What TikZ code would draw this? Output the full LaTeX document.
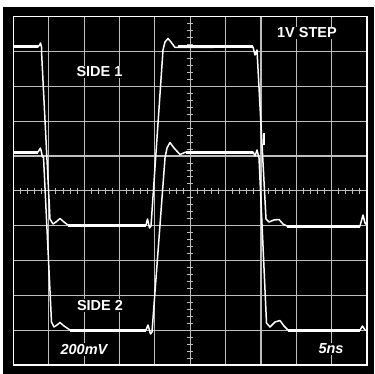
\documentclass[tikz,border=0pt]{standalone}
\usepackage{fontspec}
\newfontfamily\scopefont{Liberation Sans}
\definecolor{gridgray}{RGB}{190,190,190}
\begin{document}
\begin{tikzpicture}[x=1pt,y=-1pt]

  \tikzstyle{gridline}=[draw=gridgray, line width=1.1pt]

  \tikzstyle{ticks}=[draw=gridgray, line width=0.9pt]

  \tikzstyle{frame}=[draw=white, line width=1.5pt]

  \tikzstyle{sweep}=[draw=white, line width=1.5pt, line join=round]

  \tikzstyle{flatrun}=[draw=white, line width=3pt]

  \tikzstyle{scopetext}=[fill=black, text=white, inner sep=1pt, font=\scopefont\bfseries\fontsize{14.5}{16}\selectfont]

  \tikzstyle{scaletext}=[scopetext, font=\scopefont\bfseries\itshape\fontsize{14.5}{16}\selectfont]

\useasboundingbox (0,0) rectangle (374,374);
\fill[white] (0,0) rectangle (374,374);
\fill[black] (3,7) rectangle (374,374);

%% graticule
\foreach \i in {1,...,9} {
  \draw[gridline] (13.5+35.35*\i,16.7) -- (13.5+35.35*\i,365);
  \draw[gridline] (13.5,16.7+34.83*\i) -- (367,16.7+34.83*\i);
}

%% minor ticks on the centre lines
\foreach \k in {1,...,49} {
  \draw[ticks] (13.5+7.07*\k,187.9) -- (13.5+7.07*\k,193.8);
  \draw[ticks] (187.3,16.7+6.966*\k) -- (193.2,16.7+6.966*\k);
}

\draw[frame] (13.5,16.7) rectangle (367,365);

%% labels
\node[scopetext] (step) at (307,33) {1V STEP};

\node[scopetext] (side1) at (99.5,72) {SIDE 1};

\node[scopetext] (side2) at (100,305.5) {SIDE 2};

\node[scaletext] (volts) at (84,349.5) {200mV};

\node[scaletext] (time) at (331,349) {5ns};

%% side 1 trace
\draw[sweep] (13.5,47) -- (38,47) -- (39.5,45) -- (40.5,43) -- (41.5,47) -- (41.5,51)
  -- (46,140) -- (50,219) -- (53,224) -- (56,222) -- (60,218.5) -- (64,222) -- (68,225)
  -- (146,225) -- (147.5,219) -- (149.5,228) -- (151,226) -- (163,50) -- (165,42)
  -- (168,38.5) -- (171,42) -- (175,47.5) -- (253,47) -- (255,55) -- (257,50)
  -- (266,219) -- (269,222) -- (274,220) -- (279,219.5) -- (283,224) -- (287,226)
  -- (360,226) -- (363,215) -- (365,223) -- (367,225);

%% side 2 trace
\draw[sweep] (13.5,152) -- (38,152) -- (40.5,148) -- (42.5,157) -- (43.5,157)
  -- (51.5,322) -- (54,327) -- (57,325) -- (60,322.5) -- (64,326) -- (70,330)
  -- (146,330) -- (148,325) -- (150.5,334) -- (152,332) -- (165,158) -- (167,148)
  -- (170,142.5) -- (174,148) -- (180,154.5) -- (186,152) -- (253,152) -- (255,156)
  -- (257,150) -- (259,158) -- (266.5,323) -- (270,327) -- (275,322) -- (280,320.5)
  -- (284,326) -- (288,330) -- (360,330) -- (362.5,326) -- (365,330) -- (367,330);
\draw[sweep] (264,133) -- (264,145);

%% settled levels drawn heavier
\draw[flatrun] (13.5,47) -- (38,47);
\draw[flatrun] (68,225) -- (146,225);
\draw[flatrun] (178,47) -- (253,47);
\draw[flatrun] (287,226) -- (360,226);
\draw[flatrun] (13.5,152) -- (38,152);
\draw[flatrun] (70,330) -- (146,330);
\draw[flatrun] (186,152) -- (253,152);
\draw[flatrun] (288,330) -- (360,330);

\end{tikzpicture}
\end{document}
